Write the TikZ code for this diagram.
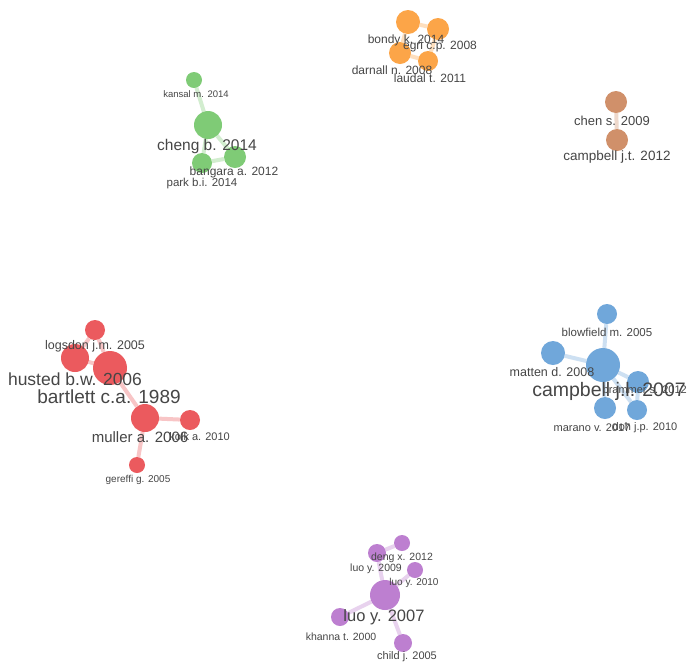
\documentclass[tikz,border=0pt]{standalone}
\usepackage{fontspec}
\setmainfont{Liberation Sans}
\usetikzlibrary{calc, positioning, backgrounds}
\definecolor{clOrange}{RGB}{252, 150, 40}
\definecolor{clGreen}{RGB}{105, 195, 95}
\definecolor{clBrown}{RGB}{200, 125, 80}
\definecolor{clRed}{RGB}{232, 62, 66}
\definecolor{clBlue}{RGB}{88, 152, 212}
\definecolor{clPurple}{RGB}{178, 105, 200}
\definecolor{labelgray}{RGB}{70, 70, 70}

\tikzset{
  paper/.style={circle, fill=#1, fill opacity=0.85, draw=none, inner sep=0pt},
  link/.style={line width=4pt, draw=#1!30},
  tag/.style={text=labelgray, inner sep=0pt, font=\fontsize{#1}{#1}\selectfont}
}

\begin{document}
\begin{tikzpicture}[x=1pt, y=-1pt]
  \begin{scope}[on background layer]
    \fill[white] (0,0) rectangle (687,665);
  \end{scope}
  \useasboundingbox (0,0) rectangle (687,665);

  % orange cluster
  \node[paper=clOrange, minimum size=24] (bondy) at (408,22) {};
  \node[paper=clOrange, minimum size=22] (egri) at (438,29) {};
  \node[paper=clOrange, minimum size=22] (darnall) at (400,53) {};
  \node[paper=clOrange, minimum size=20] (laudal) at (428,61) {};
  \node[tag=12] (bondy-l) at (406,40) {bondy k. 2014};
  \node[tag=12] (egri-l) at (440,46) {egri c.p. 2008};
  \node[tag=12] (darnall-l) at (392,70) {darnall n. 2008};
  \node[tag=12] (laudal-l) at (430,78) {laudal t. 2011};

  % green cluster
  \node[paper=clGreen, minimum size=16] (kansal) at (194,80) {};
  \node[paper=clGreen, minimum size=28] (cheng) at (208,125) {};
  \node[paper=clGreen, minimum size=22] (bangara) at (235,157) {};
  \node[paper=clGreen, minimum size=20] (park) at (202,163) {};
  \node[tag=9.5] (kansal-l) at (196,94) {kansal m. 2014};
  \node[tag=15.5] (cheng-l) at (207,146) {cheng b. 2014};
  \node[tag=12] (bangara-l) at (234,172) {bangara a. 2012};
  \node[tag=11.5] (park-l) at (202,184) {park b.i. 2014};

  % brown cluster
  \node[paper=clBrown, minimum size=22] (chen) at (616,102) {};
  \node[paper=clBrown, minimum size=22] (campbelljt) at (617,140) {};
  \node[tag=13] (chen-l) at (612,121) {chen s. 2009};
  \node[tag=13.5] (campbelljt-l) at (617,157) {campbell j.t. 2012};

  % red cluster
  \node[paper=clRed, minimum size=20] (logsdon) at (95,330) {};
  \node[paper=clRed, minimum size=28] (husted) at (75,358) {};
  \node[paper=clRed, minimum size=34] (bartlett) at (110,368) {};
  \node[paper=clRed, minimum size=28] (muller) at (145,418) {};
  \node[paper=clRed, minimum size=20] (kolk) at (190,420) {};
  \node[paper=clRed, minimum size=16] (gereffi) at (137,465) {};
  \node[tag=12.5] (logsdon-l) at (95,346) {logsdon j.m. 2005};
  \node[tag=17.5] (husted-l) at (75,379) {husted b.w. 2006};
  \node[tag=19] (bartlett-l) at (109,397) {bartlett c.a. 1989};
  \node[tag=11, anchor=east] (kolk-l) at (230,437) {kolk a. 2010};
  \node[tag=15] (muller-l) at (140,437) {muller a. 2006};
  \node[tag=10] (gereffi-l) at (138,480) {gereffi g. 2005};

  % blue cluster
  \node[paper=clBlue, minimum size=20] (blowfield) at (607,314) {};
  \node[paper=clBlue, minimum size=24] (matten) at (553,353) {};
  \node[paper=clBlue, minimum size=34] (campbelljl) at (603,365) {};
  \node[paper=clBlue, minimum size=22] (brammer) at (638,382) {};
  \node[paper=clBlue, minimum size=22] (marano) at (605,408) {};
  \node[paper=clBlue, minimum size=20] (doh) at (637,410) {};
  \node[tag=11.5] (blowfield-l) at (607,332) {blowfield m. 2005};
  \node[tag=12.5] (matten-l) at (552,372) {matten d. 2008};
  \node[tag=11, anchor=east] (brammer-l) at (687,390) {brammer s. 2012};
  \node[tag=19.5, anchor=east] (campbelljl-l) at (686,391) {campbell j.l. 2007};
  \node[tag=11] (marano-l) at (592,428) {marano v. 2017};
  \node[tag=11] (doh-l) at (645,428) {doh j.p. 2010};

  % purple cluster
  \node[paper=clPurple, minimum size=16] (deng) at (402,543) {};
  \node[paper=clPurple, minimum size=18] (luoa) at (377,553) {};
  \node[paper=clPurple, minimum size=16] (luob) at (415,570) {};
  \node[paper=clPurple, minimum size=30] (luoc) at (385,595) {};
  \node[paper=clPurple, minimum size=18] (khanna) at (340,617) {};
  \node[paper=clPurple, minimum size=18] (child) at (403,643) {};
  \node[tag=10.5] (deng-l) at (402,558) {deng x. 2012};
  \node[tag=10.5] (luoa-l) at (376,569) {luo y. 2009};
  \node[tag=10] (luob-l) at (414,583) {luo y. 2010};
  \node[tag=16.5] (luoc-l) at (384,617) {luo y. 2007};
  \node[tag=10.5] (khanna-l) at (341,637) {khanna t. 2000};
  \node[tag=11] (child-l) at (407,657) {child j. 2005};

  % links behind the circles
  \begin{scope}[on background layer]
    \draw[link=clOrange] (bondy) -- (egri);
    \draw[link=clOrange] (bondy) -- (darnall);
    \draw[link=clOrange] (egri) -- (laudal);
    \draw[link=clOrange] (darnall) -- (laudal);
    \draw[link=clGreen] (kansal) -- (cheng);
    \draw[link=clGreen] (cheng) -- (bangara);
    \draw[link=clGreen] (cheng) -- (park);
    \draw[link=clGreen] (park) -- (bangara);
    \draw[link=clBrown] (chen) -- (campbelljt);
    \draw[link=clRed] (logsdon) -- (husted);
    \draw[link=clRed] (logsdon) -- (bartlett);
    \draw[link=clRed] (husted) -- (bartlett);
    \draw[link=clRed] (bartlett) -- (muller);
    \draw[link=clRed] (muller) -- (kolk);
    \draw[link=clRed] (muller) -- (gereffi);
    \draw[link=clBlue] (blowfield) -- (campbelljl);
    \draw[link=clBlue] (matten) -- (campbelljl);
    \draw[link=clBlue] (campbelljl) -- (brammer);
    \draw[link=clBlue] (campbelljl) -- (marano);
    \draw[link=clBlue] (campbelljl) -- (doh);
    \draw[link=clBlue] (brammer) -- (doh);
    \draw[link=clPurple] (deng) -- (luoa);
    \draw[link=clPurple] (luoa) -- (luoc);
    \draw[link=clPurple] (luob) -- (luoc);
    \draw[link=clPurple] (khanna) -- (luoc);
    \draw[link=clPurple] (child) -- (luoc);
  \end{scope}
\end{tikzpicture}
\end{document}
